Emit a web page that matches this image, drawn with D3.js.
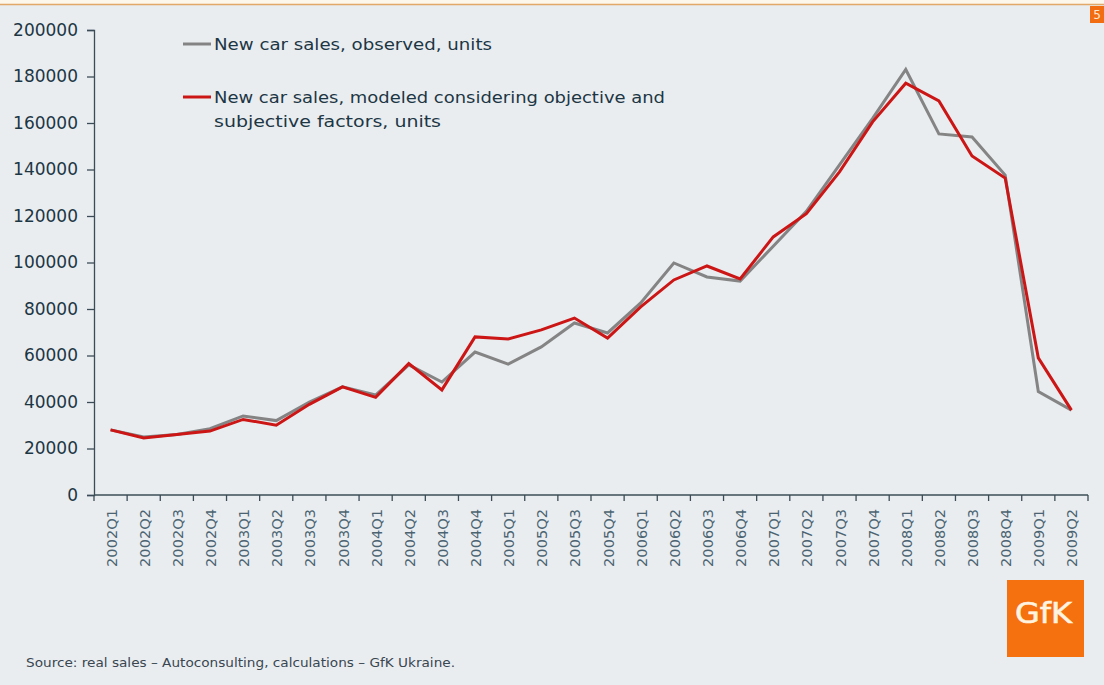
<!DOCTYPE html>
<html>
<head>
<meta charset="utf-8">
<script src="https://cdn.jsdelivr.net/npm/d3@7/dist/d3.min.js"></script>
<style>
  html, body { margin: 0; padding: 0; background: #e9edf0; }
  svg { display: block; }
  text { font-family: "DejaVu Sans", sans-serif; }
</style>
</head>
<body>
<svg id="chart" width="1104" height="685"></svg>
<script>
// Quarterly periods
const quarters = [
  "2002Q1","2002Q2","2002Q3","2002Q4","2003Q1","2003Q2","2003Q3","2003Q4",
  "2004Q1","2004Q2","2004Q3","2004Q4","2005Q1","2005Q2","2005Q3","2005Q4",
  "2006Q1","2006Q2","2006Q3","2006Q4","2007Q1","2007Q2","2007Q3","2007Q4",
  "2008Q1","2008Q2","2008Q3","2008Q4","2009Q1","2009Q2"
];

// New car sales, observed, units
const observed = [
  28000, 25000, 26000, 28500, 34000, 32000, 40000, 46500,
  43000, 56000, 48600, 61500, 56300, 63700, 74000, 69700,
  82600, 99800, 93800, 92000, 107000, 122000, 142000, 162000,
  183000, 155300, 154000, 137600, 44500, 36500
];

// New car sales, modeled considering objective and subjective factors, units
const modeled = [
  28000, 24500, 26000, 27500, 32500, 30000, 39000, 46500,
  42000, 56500, 45200, 68000, 67100, 71000, 76100, 67500,
  80900, 92500, 98500, 92900, 111000, 121000, 139000, 160500,
  177100, 169500, 145800, 136300, 59000, 36500
];

const yTicks = [0, 20000, 40000, 60000, 80000, 100000, 120000, 140000, 160000, 180000, 200000];

const legendObserved = ["New car sales, observed, units"];
const legendModeled = ["New car sales, modeled considering objective and", "subjective factors, units"];
const sourceNote = "Source: real sales \u2013 Autoconsulting,  calculations \u2013 GfK Ukraine.";

const svg = d3.select("#chart");
const W = 1104, H = 685;

svg.append("rect").attr("width", W).attr("height", H).attr("fill", "#e9edf0");
// top rule
svg.append("rect").attr("x", 0).attr("y", 0).attr("width", W).attr("height", 4).attr("fill", "#fdf6ea");
svg.append("line").attr("x1", 0).attr("x2", W).attr("y1", 4.5).attr("y2", 4.5)
  .attr("stroke", "#e2a868").attr("stroke-width", 1.5);
// page number badge
svg.append("rect").attr("x", 1090).attr("y", 6).attr("width", 14).attr("height", 17).attr("fill", "#f26c12");
svg.append("text").attr("x", 1097).attr("y", 19).attr("fill", "#ffe8d0")
  .attr("font-size", 12).attr("text-anchor", "middle").text("5");

const x = d3.scaleBand().domain(quarters).range([94, 1088]);
const y = d3.scaleLinear().domain([0, 200000]).range([495, 30]);

// y axis
const yAxis = svg.append("g").attr("transform", "translate(94,0)")
  .call(d3.axisLeft(y).tickValues(yTicks).tickSize(7).tickPadding(9).tickFormat(d3.format("d")));
yAxis.select(".domain").attr("stroke", "#3b4c57").attr("stroke-width", 1.3);
yAxis.selectAll(".tick line").attr("stroke", "#3b4c57").attr("stroke-width", 1.3);
yAxis.selectAll(".tick text").attr("fill", "#1d3644").attr("font-size", 17)
  .attr("font-family", "'DejaVu Sans', sans-serif");

// x axis with ticks on category boundaries
const xAxisG = svg.append("g").attr("transform", "translate(0,495)");
xAxisG.append("line").attr("x1", 94).attr("x2", 1088).attr("y1", 0).attr("y2", 0)
  .attr("stroke", "#3b4c57").attr("stroke-width", 1.3);
const bounds = quarters.map(q => x(q)).concat([x.range()[1]]);
xAxisG.selectAll("line.tk").data(bounds).enter().append("line").attr("class", "tk")
  .attr("x1", d => d).attr("x2", d => d).attr("y1", 0).attr("y2", 6)
  .attr("stroke", "#3b4c57").attr("stroke-width", 1.3);
xAxisG.selectAll("text.ql").data(quarters).enter().append("text").attr("class", "ql")
  .attr("transform", d => `translate(${x(d) + x.bandwidth() / 2 + 6},14) rotate(-90)`)
  .attr("text-anchor", "end").attr("fill", "#4c6472").attr("font-size", 14.6)
  .text(d => d);

// series lines
const cx = d => x(d) + x.bandwidth() / 2;
const line = d3.line().x((d, i) => cx(quarters[i])).y(d => y(d));

svg.append("path").datum(observed).attr("d", line).attr("fill", "none")
  .attr("stroke", "#848484").attr("stroke-width", 3).attr("stroke-linejoin", "miter");
svg.append("path").datum(modeled).attr("d", line).attr("fill", "none")
  .attr("stroke", "#cc1616").attr("stroke-width", 3).attr("stroke-linejoin", "miter");

// legend
const lg = svg.append("g");
lg.append("line").attr("x1", 183).attr("x2", 211).attr("y1", 44).attr("y2", 44)
  .attr("stroke", "#848484").attr("stroke-width", 3);
lg.append("text").attr("x", 214).attr("y", 50).attr("font-size", 16).attr("fill", "#1d3644")
  .attr("textLength", 278).attr("lengthAdjust", "spacingAndGlyphs")
  .text(legendObserved[0]);
lg.append("line").attr("x1", 183).attr("x2", 211).attr("y1", 97).attr("y2", 97)
  .attr("stroke", "#cc1616").attr("stroke-width", 3);
const modeledWidths = [451, 227];
legendModeled.forEach((t, i) => {
  lg.append("text").attr("x", 214).attr("y", 103 + i * 24).attr("font-size", 16).attr("fill", "#1d3644")
    .attr("textLength", modeledWidths[i]).attr("lengthAdjust", "spacingAndGlyphs").text(t);
});

// source note
svg.append("text").attr("x", 26).attr("y", 667).attr("font-size", 12.5).attr("fill", "#3a4650")
  .attr("textLength", 429).attr("lengthAdjust", "spacingAndGlyphs")
  .text(sourceNote);

// logo
svg.append("rect").attr("x", 1007).attr("y", 580).attr("width", 77).attr("height", 77).attr("fill", "#f5700f");
svg.append("text").attr("x", 1015).attr("y", 623)
  .attr("font-size", 28).attr("fill", "#fff4e0")
  .attr("stroke", "#fff4e0").attr("stroke-width", 0.6)
  .attr("textLength", 57).attr("lengthAdjust", "spacingAndGlyphs")
  .attr("font-family", "'Open Sans', 'DejaVu Sans', sans-serif").text("GfK");
</script>
</body>
</html>
